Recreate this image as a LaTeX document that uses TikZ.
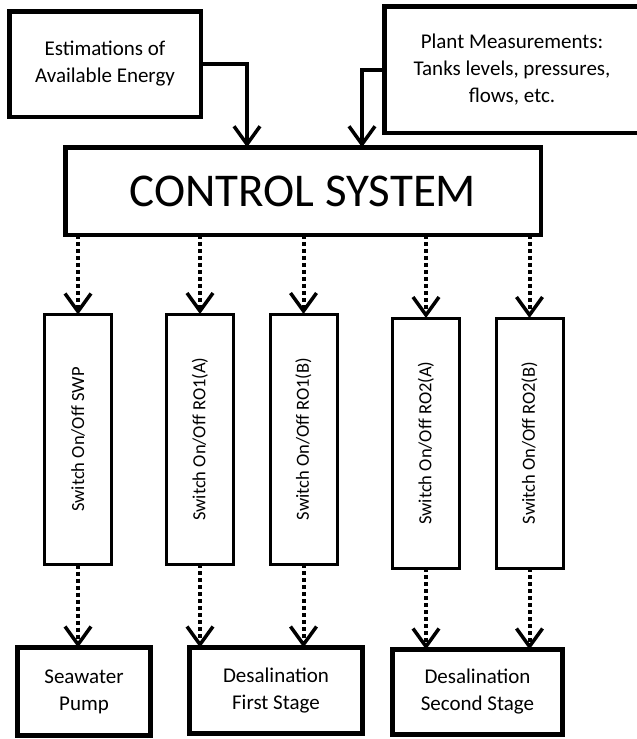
\documentclass[tikz,border=0pt]{standalone}
\usepackage{fontspec}
\setmainfont{Carlito}
\usepackage{graphicx}
\usepackage{tikz}
\usetikzlibrary{arrows.meta}

\begin{document}
\begin{tikzpicture}[x=1pt, y=-1pt,
  infobox/.style={draw, line width=4.5pt, outer sep=0pt, inner sep=0pt, align=center, font=\fontsize{21}{27}\selectfont},
  unitbox/.style={draw, line width=5pt, outer sep=0pt, inner sep=0pt, align=center, font=\fontsize{21}{27}\selectfont},
  switchbox/.style={draw, line width=3pt, outer sep=0pt, inner sep=0pt, minimum width=67pt, minimum height=250pt, font=\fontsize{18.5}{22}\selectfont},
  feed/.style={-{Straight Barb[length=18pt, width=26pt, line width=3.5pt]}, line width=4pt},
  cmd/.style={feed, dash pattern=on 4pt off 3pt}]
  \useasboundingbox (0,0) rectangle (637,739);

  % inputs and controller
  \node[infobox, minimum width=191.5pt, minimum height=105.5pt] (est) at (105,64) {Estimations of\\Available Energy};
  \node[infobox, minimum width=255.5pt, minimum height=126.5pt] (meas) at (512,69.5) {Plant Measurements:\\Tanks levels, pressures,\\flows, etc.};
  \node[infobox, minimum width=475.5pt, minimum height=87.5pt, font=\fontsize{47}{56}\selectfont] (ctrl) at (303,191) {CONTROL SYSTEM};

  % switches
  \node[switchbox] (swp) at (78,439.5) {\rotatebox{90}{Switch On/Off SWP}};
  \node[switchbox] (roIa) at (200,439) {\rotatebox{90}{Switch On/Off RO1(A)}};
  \node[switchbox] (roIb) at (303.5,439) {\rotatebox{90}{Switch On/Off RO1(B)}};
  \node[switchbox] (roIIa) at (426,443) {\rotatebox{90}{Switch On/Off RO2(A)}};
  \node[switchbox] (roIIb) at (529.5,443) {\rotatebox{90}{Switch On/Off RO2(B)}};

  % plant units
  \node[unitbox, minimum width=133pt, minimum height=88pt] (pump) at (84,691.5) {Seawater\\Pump};
  \node[unitbox, minimum width=173pt, minimum height=86pt] (stageI) at (276,690.5) {Desalination\\First Stage};
  \node[unitbox, minimum width=170pt, minimum height=85pt] (stageII) at (477.5,692) {Desalination\\Second Stage};

  \draw[feed] (est.east) -| ([xshift=-56pt]ctrl.north);
  \draw[feed] (meas.west) -| ([xshift=59pt]ctrl.north);

  \draw[cmd] (ctrl.south -| swp.north) -- (swp.north);
  \draw[cmd] (ctrl.south -| roIa.north) -- (roIa.north);
  \draw[cmd] (ctrl.south -| roIb.north) -- (roIb.north);
  \draw[cmd] (ctrl.south -| roIIa.north) -- (roIIa.north);
  \draw[cmd] (ctrl.south -| roIIb.north) -- (roIIb.north);

  \draw[cmd] (swp.south) -- (swp.south |- pump.north);
  \draw[cmd] (roIa.south) -- (roIa.south |- stageI.north);
  \draw[cmd] (roIb.south) -- (roIb.south |- stageI.north);
  \draw[cmd] (roIIa.south) -- (roIIa.south |- stageII.north);
  \draw[cmd] (roIIb.south) -- (roIIb.south |- stageII.north);
\end{tikzpicture}
\end{document}
